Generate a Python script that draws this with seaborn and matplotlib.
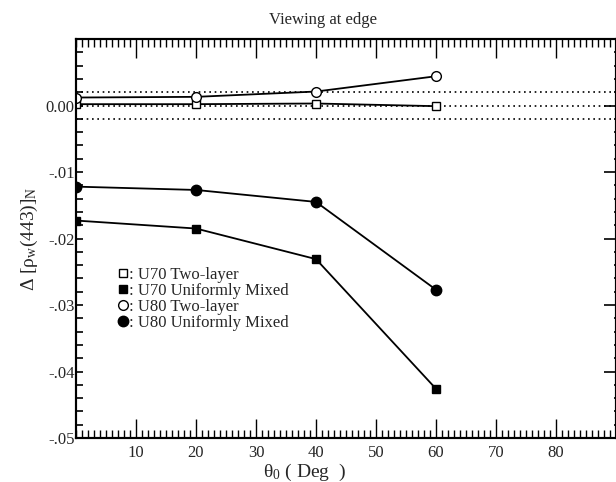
import matplotlib
matplotlib.use("Agg")
import matplotlib.pyplot as plt
import seaborn as sns
import pandas as pd
from matplotlib.ticker import MultipleLocator, FixedLocator, FixedFormatter

sns.set_theme(style="white")
plt.rcParams['font.family'] = ['Liberation Serif', 'DejaVu Serif']
plt.rcParams['mathtext.fontset'] = 'custom'
plt.rcParams['mathtext.rm'] = 'Liberation Serif'
plt.rcParams['mathtext.it'] = 'Liberation Serif'
plt.rcParams['mathtext.default'] = 'regular'

# ---- data ----
theta = [0, 20, 40, 60]
u70_two_layer = [0.0002, 0.0002, 0.0003, -0.0001]
u70_uniform = [-0.0173, -0.0185, -0.0231, -0.0426]
u80_two_layer = [0.0012, 0.0013, 0.0021, 0.0044]
u80_uniform = [-0.0122, -0.0127, -0.0145, -0.0277]
series_names = [": U70 Two-layer", ": U70 Uniformly Mixed", ": U80 Two-layer", ": U80 Uniformly Mixed"]
ref_lines = [0.002, 0.0, -0.002]
x_ticks = [10, 20, 30, 40, 50, 60, 70, 80]
y_ticks = [0.0, -0.01, -0.02, -0.03, -0.04, -0.05]
y_tick_labels = ["0.00", "-.01", "-.02", "-.03", "-.04", "-.05"]
title = "Viewing at edge"

df = pd.DataFrame({
    "theta": theta * 4,
    "value": u70_two_layer + u70_uniform + u80_two_layer + u80_uniform,
    "series": sum([[n] * len(theta) for n in series_names], []),
})

fig = plt.figure(figsize=(6.16, 4.82), dpi=100)
ax = fig.add_axes([76 / 616, 1 - 438 / 482, 1 - 76 / 616, (438 - 39) / 482])

for yv in ref_lines:
    ax.axhline(yv, color='black', linestyle=(0, (1, 2.2)), linewidth=1.2, zorder=1)

styles = {
    series_names[0]: dict(marker='s', markersize=5.5, markerfacecolor='white'),
    series_names[1]: dict(marker='s', markersize=5.5, markerfacecolor='black'),
    series_names[2]: dict(marker='o', markersize=7, markerfacecolor='white'),
    series_names[3]: dict(marker='o', markersize=7.5, markerfacecolor='black'),
}
for name in series_names:
    sub = df[df["series"] == name]
    sns.lineplot(data=sub, x="theta", y="value", ax=ax, color='black', linewidth=1.3,
                 markeredgecolor='black', markeredgewidth=1.0, label=name,
                 zorder=3, **styles[name])

ax.set_xlim(0, 90)
ax.set_ylim(-0.05, 0.01)

ax.xaxis.set_major_locator(FixedLocator(x_ticks))
ax.xaxis.set_minor_locator(MultipleLocator(1))
ax.yaxis.set_major_locator(FixedLocator(y_ticks))
ax.yaxis.set_major_formatter(FixedFormatter(y_tick_labels))
ax.yaxis.set_minor_locator(MultipleLocator(0.002))

ax.tick_params(axis='x', which='major', direction='in', top=True, bottom=True,
               length=14, width=1.0, labelsize=12, pad=5, color='black')
ax.tick_params(axis='x', which='minor', direction='in', top=True, bottom=True,
               length=5.5, width=1.0, color='black')
ax.tick_params(axis='y', which='major', direction='in', left=True, right=False,
               length=5, width=1.2, labelsize=12, pad=1, color='black')
ax.tick_params(axis='y', which='minor', direction='in', left=True, right=False,
               length=5, width=1.2, color='black')

ax2 = ax.twinx()
ax2.set_ylim(-0.05, 0.01)
ax2.yaxis.set_major_locator(FixedLocator(y_ticks + [0.01]))
ax2.yaxis.set_minor_locator(MultipleLocator(0.002))
ax2.tick_params(axis='y', which='major', direction='in', length=9, width=1.2,
                labelright=False, color='black')
ax2.tick_params(axis='y', which='minor', direction='in', length=1.5, width=1.2,
                color='black')
ax2.grid(False)

for a in (ax, ax2):
    for sp in a.spines.values():
        sp.set_color('black')
        sp.set_linewidth(1.5)

ax.set_xlabel("")
ax.set_ylabel(r"Δ [ρ$_{w}$(443)]$_{N}$", fontsize=14, labelpad=4)
fig.text(305 / 616, 1 - 472 / 482, r"θ$_{0}$ ( Deg  )", fontsize=14, ha='center', va='center')
fig.text(323 / 616, 1 - 20 / 482, title, fontsize=12, ha='center', va='center')

leg = ax.legend(loc='upper left', bbox_to_anchor=(0.065, 0.445), frameon=False,
                handlelength=0.6, handletextpad=0.1, labelspacing=0.0, fontsize=12,
                borderaxespad=0)
for h in leg.legend_handles:
    h.set_linestyle('None')
    h.set_linewidth(0)

ax.grid(False)
fig.savefig("out.png", dpi=100)
